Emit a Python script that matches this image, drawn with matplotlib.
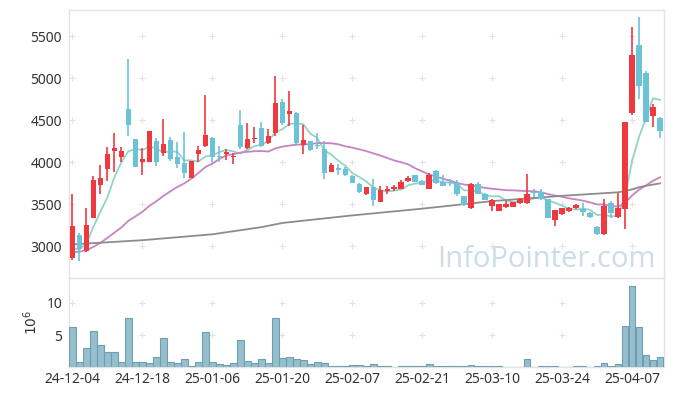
import numpy as np
import pandas as pd
import matplotlib
matplotlib.use("Agg")
import matplotlib.pyplot as plt

plt.rcParams['font.family'] = ['Noto Sans', 'DejaVu Sans']

# daily candles (KRW), 85 trading days from 2024-12-04
opens = [2860, 3130, 2940, 3340, 3730, 3920, 4135, 4065, 4630, 4275,
         4005, 4005, 4255, 4105, 4265, 4065, 3985, 3815, 4090, 4195,
         4285, 4075, 4100, 4055, 4440, 4165, 4275, 4400, 4225, 4345,
         4720, 4570, 4580, 4205, 4250, 4205, 4150, 3885, 3925, 3915,
         3835, 3740, 3615, 3700, 3530, 3660, 3680, 3680, 3770, 3845,
         3775, 3685, 3890, 3765, 3750, 3745, 3590, 3450, 3735, 3625,
         3480, 3420, 3470, 3470, 3510, 3515, 3640, 3640, 3555, 3310,
         3380, 3415, 3455, 3445, 3390, 3230, 3140, 3515, 3350, 3440,
         4580, 5395, 5065, 4550, 4530]
highs = [3620, 3160, 3450, 3830, 3970, 4180, 4340, 4180, 5225, 4280,
         4165, 4370, 4290, 4510, 4295, 4235, 4355, 4015, 4195, 4800,
         4295, 4195, 4155, 4105, 4620, 4470, 4415, 4475, 4390, 5025,
         4745, 4850, 4600, 4440, 4255, 4350, 4255, 3985, 3975, 3945,
         3840, 3745, 3705, 3795, 3715, 3715, 3725, 3785, 3835, 3850,
         3790, 3865, 3905, 3845, 3795, 3790, 3595, 3755, 3765, 3630,
         3555, 3505, 3535, 3530, 3575, 3855, 3675, 3675, 3565, 3435,
         3455, 3465, 3495, 3515, 3405, 3235, 3565, 3535, 3635, 4475,
         5610, 5730, 5085, 4690, 4535]
lows = [2840, 2820, 2930, 3330, 3620, 3780, 3880, 4000, 4310, 3940,
        3840, 4000, 3950, 4070, 4015, 3925, 3815, 3810, 4000, 4175,
        4005, 4005, 4025, 3975, 4150, 4150, 4225, 4180, 4215, 4315,
        4440, 4430, 4220, 4090, 4130, 4150, 3795, 3880, 3845, 3835,
        3750, 3635, 3610, 3475, 3525, 3625, 3660, 3675, 3760, 3760,
        3725, 3680, 3740, 3710, 3715, 3595, 3480, 3445, 3615, 3545,
        3420, 3415, 3455, 3460, 3500, 3500, 3580, 3550, 3330, 3240,
        3370, 3405, 3445, 3355, 3340, 3135, 3135, 3340, 3330, 3200,
        4560, 4745, 4475, 4420, 4290]
closes = [3240, 2960, 3250, 3790, 3810, 4095, 4165, 4130, 4445, 3945,
          4035, 4370, 4005, 4210, 4035, 3980, 3865, 4010, 4145, 4320,
          4065, 4060, 4120, 4070, 4185, 4280, 4290, 4195, 4310, 4700,
          4460, 4605, 4225, 4260, 4145, 4195, 3875, 3965, 3905, 3840,
          3755, 3645, 3700, 3550, 3665, 3685, 3700, 3760, 3810, 3765,
          3730, 3845, 3745, 3715, 3745, 3625, 3490, 3740, 3625, 3550,
          3550, 3500, 3495, 3525, 3560, 3625, 3630, 3555, 3340, 3430,
          3450, 3455, 3490, 3410, 3350, 3140, 3475, 3390, 3450, 4475,
          5275, 4910, 4480, 4660, 4375]
# closes of the 19 sessions before the window (needed for the averages)
prev_closes = [2880, 2920, 2950, 2870, 2900, 2930, 2890, 2860, 2910, 2915,
               2960, 2920, 2950, 2930, 2935, 3020, 2890, 2800, 2910]
# volume, millions of shares
volumes = [6.3, 0.73, 2.9, 5.7, 3.4, 2.3, 2.3, 0.73, 7.6, 0.73,
           0.73, 0.57, 1.5, 4.6, 0.73, 0.57, 1.2, 0.1, 0.73, 5.4,
           0.73, 0.42, 0.26, 0.57, 4.2, 0.89, 0.57, 1.2, 0.57, 7.6,
           1.35, 1.5, 1.2, 1.04, 0.42, 0.73, 0.57, 0.1, 0.1, 0.1,
           0.26, 0.26, 0.1, 0.42, 0.1, 0.1, 0.02, 0.1, 0.1, 0.1,
           0.1, 0.42, 0.1, 0.1, 0.1, 0.1, 0.1, 0.26, 0.1, 0.1,
           0.1, 0.1, 0.02, 0.02, 0.02, 1.2, 0.02, 0.1, 0.1, 0.1,
           0.02, 0.02, 0.1, 0.1, 0.02, 0.1, 0.57, 0.1, 0.42, 6.35,
           12.66, 6.2, 1.83, 1.1, 1.5]
# long moving average
ma_long_idx = [0, 10, 20, 27, 30, 40, 50, 60, 70, 78, 79, 80, 81, 82, 83, 84]
ma_long_val = [3020, 3070, 3140, 3225, 3275, 3365, 3445, 3535, 3598, 3640,
               3655, 3675, 3700, 3718, 3732, 3746]
tick_pos = [0, 10, 20, 30, 40, 50, 60, 70, 80]
tick_labels = ['24-12-04', '24-12-18', '25-01-06', '25-01-20', '25-02-07',
               '25-02-21', '25-03-10', '25-03-24', '25-04-07']

n = len(closes)
x = np.arange(n)
all_close = pd.Series(prev_closes + closes)
ma5 = all_close.rolling(5).mean().values[-n:]
ma20 = all_close.rolling(20).mean().values[-n:]

up_c = '#ee3a3f'
dn_c = '#6cc3d8'
frame_c = '#e3e3e3'

fig = plt.figure(figsize=(6.73, 3.96), dpi=100)
ax = fig.add_axes([0.1025, 0.298, 0.8834, 0.6768])
axv = fig.add_axes([0.1025, 0.0732, 0.8834, 0.2247], sharex=ax)

# moving averages
ax.plot(x, ma5, color='#95d3c9', lw=1.3, zorder=2)
ax.plot(x, ma20, color='#c883c2', lw=1.3, zorder=2)
ax.plot(ma_long_idx, ma_long_val, color='#8c8c8c', lw=1.3, zorder=2)

# candles
for i in range(n):
    o, h, l, c = opens[i], highs[i], lows[i], closes[i]
    col = up_c if c >= o else dn_c
    ax.vlines(i, l, h, color=col, lw=1.2, zorder=3)
    lo, hi = min(o, c), max(o, c)
    ax.bar(i, max(hi - lo, 12), bottom=lo, width=0.78, color=col,
           linewidth=0, zorder=4)

ax.set_xlim(-0.5, 84.5)
ax.set_ylim(2620, 5810)
ax.set_yticks([3000, 3500, 4000, 4500, 5000, 5500])
ax.tick_params(axis='x', labelbottom=False, length=0)
ax.tick_params(axis='y', length=0, labelsize=10, colors='#333333', pad=5)

ax.text(0.986, 0.041, 'InfoPointer.com', transform=ax.transAxes,
        ha='right', va='baseline', fontsize=21, color='#cadde8',
        family=['Open Sans', 'DejaVu Sans'], zorder=1)

# volume
axv.bar(x, volumes, width=0.95, color='#96becd', edgecolor='#6ea0b4',
        linewidth=0.8, zorder=3)
axv.set_ylim(0, 13.9)
axv.set_yticks([5, 10])
axv.set_xticks(tick_pos)
axv.set_xticklabels(tick_labels)
axv.tick_params(axis='both', length=0, labelsize=10, colors='#333333')
axv.tick_params(axis='y', pad=5)
axv.set_ylabel(r'$10^6$', fontsize=10, color='#333333', labelpad=4)

# plus-shaped grid marks at tick crossings
for a, ys in ((ax, [3000, 3500, 4000, 4500, 5000, 5500]), (axv, [5, 10])):
    gx, gy = np.meshgrid(tick_pos, ys)
    a.scatter(gx.ravel(), gy.ravel(), marker='+', s=16, color='#e2e2e2',
              linewidths=0.8, zorder=0)
    for s in a.spines.values():
        s.set_color(frame_c)
        s.set_linewidth(1.0)

fig.savefig('out.png', dpi=100)
